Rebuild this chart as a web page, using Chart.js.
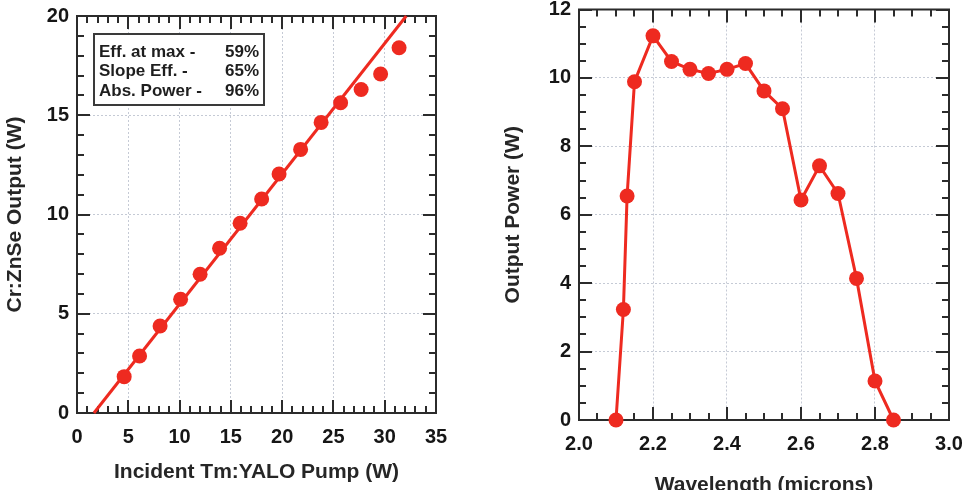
<!DOCTYPE html>
<html><head><meta charset="utf-8">
<script src="https://cdn.jsdelivr.net/npm/chart.js@4"></script>
<style>
html,body{margin:0;padding:0;background:#fff;width:963px;height:490px;overflow:hidden}
#c1{position:absolute;left:0;top:0}
#c2{position:absolute;left:480px;top:0}
</style></head><body>
<canvas id="c1" width="480" height="490"></canvas>
<canvas id="c2" width="483" height="490"></canvas>
<script>
// ---- data ----
const pumpPower   = [4.6, 6.1, 8.1, 10.1, 12.0, 13.9, 15.9, 18.0, 19.7, 21.8, 23.8, 25.7, 27.7, 29.6, 31.4];
const outputPower = [1.83, 2.87, 4.38, 5.73, 6.99, 8.30, 9.56, 10.78, 12.04, 13.28, 14.64, 15.63, 16.30, 17.08, 18.40];
const fitPump     = [1.65, 32.1];
const fitOutput   = [0, 20];
const wavelength  = [2.10, 2.12, 2.13, 2.15, 2.20, 2.25, 2.30, 2.35, 2.40, 2.45, 2.50, 2.55, 2.60, 2.65, 2.70, 2.75, 2.80, 2.85];
const wavePower   = [0, 3.23, 6.55, 9.89, 11.23, 10.48, 10.25, 10.13, 10.25, 10.42, 9.62, 9.10, 6.43, 7.43, 6.62, 4.14, 1.14, 0];
const legendLabels = ['Eff. at max -', 'Slope Eff. -', 'Abs. Power -'];
const legendValues = ['59%', '65%', '96%'];
const leftXTitle  = 'Incident Tm:YALO Pump (W)';
const leftYTitle  = 'Cr:ZnSe Output (W)';
const rightXTitle = 'Wavelength (microns)';
const rightYTitle = 'Output Power (W)';

// ---- styles ----
const RED = '#ee2a20';
const FONT = "'Liberation Sans', Arial, Helvetica, sans-serif";
const tickFont = {family: FONT, size: 20, weight: 'bold'};
const GRID = 'rgba(150,158,178,0.55)';

function framePluginFactory(xMinor, yMinor, xMajor, yMajor) {
  return {
    id: 'frame',
    beforeDatasetsDraw(chart) {
      const {ctx, chartArea: a, scales: {x, y}} = chart;
      ctx.save();
      ctx.strokeStyle = '#2b2b2b';
      ctx.lineWidth = 2;
      ctx.beginPath();
      const ticksX = (step, len) => {
        const n = Math.round((x.max - x.min) / step);
        for (let i = 0; i <= n; i++) {
          const px = Math.round(x.getPixelForValue(x.min + i * step));
          ctx.moveTo(px, a.bottom); ctx.lineTo(px, a.bottom - len);
          ctx.moveTo(px, a.top); ctx.lineTo(px, a.top + len);
        }
      };
      const ticksY = (step, len) => {
        const n = Math.round((y.max - y.min) / step);
        for (let i = 0; i <= n; i++) {
          const py = Math.round(y.getPixelForValue(y.min + i * step));
          ctx.moveTo(a.left, py); ctx.lineTo(a.left + len, py);
          ctx.moveTo(a.right, py); ctx.lineTo(a.right - len, py);
        }
      };
      ticksX(xMinor, 7); ticksX(xMajor, 13);
      ticksY(yMinor, 7); ticksY(yMajor, 13);
      ctx.stroke();
      ctx.strokeRect(a.left, a.top, a.width, a.height);
      ctx.restore();
    }
  };
}

const legendBoxPlugin = {
  id: 'effbox',
  afterDraw(chart) {
    const {ctx} = chart;
    ctx.save();
    ctx.fillStyle = '#fff';
    ctx.fillRect(94, 34, 170, 71);
    ctx.strokeStyle = '#3a3a3a';
    ctx.lineWidth = 2;
    ctx.strokeRect(94, 34, 170, 71);
    ctx.font = "bold 17px " + FONT;
    ctx.fillStyle = '#1e1e1e';
    ctx.textBaseline = 'middle';
    legendLabels.forEach((t, i) => {
      ctx.textAlign = 'left';
      ctx.fillText(t, 99, 52 + i * 19.5);
      ctx.textAlign = 'right';
      ctx.fillText(legendValues[i], 259, 52 + i * 19.5);
    });
    ctx.restore();
  }
};

function xScale(min, max, step, title, height, titlePad, titleLH, fmt) {
  return {
    type: 'linear', min, max,
    ticks: {stepSize: step, padding: 12, color: '#161616', font: tickFont,
            callback: fmt || (v => String(v))},
    grid: {color: GRID, lineWidth: 1, drawTicks: false},
    border: {display: false, dash: [2, 2]},
    title: {display: true, text: title, color: '#262626',
            font: {family: FONT, size: 21, weight: 'bold', lineHeight: titleLH},
            padding: {top: 0, bottom: titlePad}},
    afterFit(s) { s.height = height; s.paddingLeft = 0; s.paddingRight = 0; }
  };
}
function yScale(min, max, step, title, width, titlePad) {
  return {
    type: 'linear', min, max,
    ticks: {stepSize: step, padding: 8, color: '#161616', font: tickFont},
    grid: {color: GRID, lineWidth: 1, drawTicks: false},
    border: {display: false, dash: [2, 2]},
    title: {display: true, text: title, color: '#262626',
            font: {family: FONT, size: 21, weight: 'bold', lineHeight: 1},
            padding: {top: titlePad, bottom: 0}},
    afterFit(s) { s.width = width; s.paddingTop = 0; s.paddingBottom = 0; }
  };
}

const common = {
  responsive: false, animation: false, devicePixelRatio: 1,
  plugins: {legend: {display: false}, tooltip: {enabled: false}}
};

new Chart(document.getElementById('c1'), {
  type: 'scatter',
  data: {
    datasets: [
      {data: fitPump.map((v, i) => ({x: v, y: fitOutput[i]})), showLine: true,
       borderColor: RED, borderWidth: 3, pointRadius: 0, clip: false},
      {data: pumpPower.map((v, i) => ({x: v, y: outputPower[i]})), showLine: false,
       pointRadius: 7.5, pointBackgroundColor: RED, pointBorderWidth: 0, clip: false}
    ]
  },
  options: Object.assign({}, common, {
    layout: {padding: {left: 0, right: 44, top: 16, bottom: 0}},
    scales: {
      x: xScale(0, 35, 5, leftXTitle, 77, 7, 1),
      y: yScale(0, 20, 5, leftYTitle, 77, 4.5)
    }
  }),
  plugins: [framePluginFactory(1, 1, 5, 5), legendBoxPlugin]
});

new Chart(document.getElementById('c2'), {
  type: 'line',
  data: {
    datasets: [
      {data: wavelength.map((v, i) => ({x: v, y: wavePower[i]})),
       borderColor: RED, borderWidth: 3, tension: 0,
       pointRadius: 7.5, pointBackgroundColor: RED, pointBorderWidth: 0, clip: false}
    ]
  },
  options: Object.assign({}, common, {
    layout: {padding: {left: 0, right: 14, top: 9.5, bottom: 0}},
    scales: {
      x: xScale(2, 3, 0.2, rightXTitle, 70, 0, 0.5, v => v.toFixed(1)),
      y: yScale(0, 12, 2, rightYTitle, 99, 22.5)
    }
  }),
  plugins: [framePluginFactory(0.05, 0.5, 0.2, 2)]
});
</script>
</body></html>
